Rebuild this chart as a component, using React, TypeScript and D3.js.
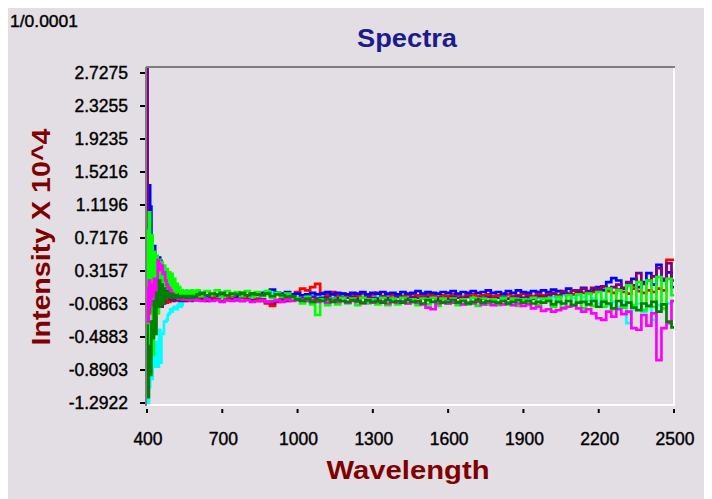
import React from "react";
import * as d3 from "d3";

const WIDTH = 704;
const HEIGHT = 491;
const BG = "#e3dee4";
const FONT = "'Liberation Sans', Arial, sans-serif";

// Sampling grid: 5 nm steps up to 595 nm, then 20 nm steps to 2500 nm
const wavelengths = [...d3.range(400, 600, 5), ...d3.range(600, 2501, 20)];

const xTickValues = [400, 700, 1000, 1300, 1600, 1900, 2200, 2500];
const yTickValues = [2.7275, 2.3255, 1.9235, 1.5216, 1.1196, 0.7176, 0.3157, -0.0863, -0.4883, -0.8903, -1.2922];

const purple = [
  2.78, 0.85, 0.30, 0.52, 0.18, 0.45, 0.10, 0.35, -0.05, 0.20,
  -0.10, 0.05, -0.12, 0.02, -0.08, 0.06, 0.10, 0.08, -0.03, 0.09,
  -0.04, 0.04, -0.05, -0.02, -0.04, -0.03, -0.05, -0.04, -0.03, -0.05,
  -0.04, -0.03, -0.05, -0.04, -0.04, -0.03, -0.05, -0.04, -0.03, -0.04,
  -0.04, -0.03, -0.05, -0.04, -0.03, -0.05, -0.04, -0.03, -0.04, -0.05,
  -0.03, -0.04, -0.05, -0.03, -0.06, -0.08, -0.04, -0.03, -0.05, -0.02,
  -0.03, -0.01, -0.02, 0.00, -0.02, -0.01, 0.00, -0.02, -0.01, 0.00,
  -0.01, 0.00, -0.02, -0.01, 0.00, -0.01, -0.02, 0.00, -0.01, -0.02,
  0.00, -0.01, -0.02, 0.00, -0.01, -0.02, 0.00, -0.01, -0.03, -0.01,
  -0.02, 0.00, -0.01, -0.02, 0.00, -0.01, -0.03, -0.01, 0.00, -0.02,
  -0.01, 0.00, -0.02, -0.01, 0.01, -0.01, 0.00, -0.02, 0.01, 0.00,
  0.02, 0.04, 0.01, 0.06, 0.03, 0.08, 0.05, 0.10, 0.06, 0.11,
  0.08, 0.13, 0.10, 0.12, 0.15, 0.11, 0.18, 0.14, 0.29, 0.16,
  0.20, 0.25, 0.35, 0.22, 0.41, 0.20,
];

const blue = [
  0.20, 0.60, 1.36, 1.10, 0.72, -0.18, 0.62, 0.30, 0.22, 0.35,
  0.48, 0.44, 0.30, 0.26, 0.22, 0.20, 0.17, 0.15, 0.13, 0.12,
  0.10, 0.09, 0.07, 0.06, 0.05, 0.04, 0.04, 0.03, 0.02, 0.02,
  0.01, 0.02, 0.00, 0.01, 0.02, 0.00, 0.01, 0.02, 0.01, 0.00,
  0.02, 0.03, 0.01, 0.03, 0.02, 0.04, 0.02, 0.03, 0.01, 0.03,
  0.02, 0.04, 0.03, 0.05, 0.06, 0.09, 0.05, 0.04, 0.06, 0.03,
  0.04, 0.02, 0.03, 0.05, 0.03, 0.04, 0.06, 0.03, 0.05, 0.04,
  0.03, 0.05, 0.04, 0.06, 0.03, 0.05, 0.04, 0.06, 0.04, 0.05,
  0.03, 0.06, 0.04, 0.05, 0.07, 0.04, 0.06, 0.05, 0.04, 0.06,
  0.05, 0.07, 0.04, 0.06, 0.05, 0.07, 0.05, 0.06, 0.08, 0.05,
  0.06, 0.04, 0.07, 0.05, 0.08, 0.06, 0.05, 0.07, 0.06, 0.08,
  0.06, 0.09, 0.07, 0.05, 0.10, 0.08, 0.06, 0.11, 0.07, 0.09,
  0.12, 0.08, 0.18, 0.23, 0.20, 0.10, 0.15, 0.22, 0.12, 0.18,
  0.29, 0.15, 0.39, 0.20, 0.30, 0.12,
];

const red = [
  0.00, -0.10, -0.20, -0.12, 0.05, -0.08, 0.10, 0.00, 0.08, -0.03,
  0.05, 0.00, -0.05, 0.03, -0.06, -0.02, -0.07, -0.04, -0.06, -0.03,
  -0.05, -0.02, -0.04, -0.01, -0.02, 0.00, -0.01, 0.01, 0.00, 0.01,
  0.00, 0.01, 0.02, 0.00, 0.01, 0.02, 0.00, 0.01, 0.02, 0.01,
  0.01, 0.00, 0.02, -0.01, 0.01, 0.00, -0.02, 0.01, 0.00, -0.01,
  0.00, 0.01, -0.02, -0.05, -0.08, -0.11, -0.06, -0.03, 0.00, 0.01,
  0.06, 0.10, 0.08, 0.12, 0.16, 0.05, 0.03, 0.06, 0.02, 0.04,
  0.02, 0.03, 0.01, 0.04, 0.02, 0.03, 0.05, 0.01, 0.03, 0.02,
  0.03, 0.01, 0.02, 0.04, 0.02, 0.01, 0.03, 0.02, 0.00, 0.02,
  0.01, 0.03, 0.02, 0.00, 0.02, 0.03, 0.01, 0.02, 0.03, 0.01,
  0.02, 0.00, 0.03, 0.01, 0.02, 0.04, 0.02, 0.01, 0.03, 0.02,
  0.03, 0.05, 0.02, 0.07, 0.04, 0.03, 0.08, 0.05, 0.04, 0.06,
  0.10, 0.12, 0.07, 0.05, 0.09, 0.06, 0.04, 0.10, 0.07, 0.05,
  0.08, 0.06, 0.10, 0.08, 0.45, 0.45,
];

const magenta = [
  0.10, -0.30, 0.20, -0.10, 0.15, 0.00, 0.22, -0.03, 0.18, 0.45,
  0.40, 0.33, 0.38, 0.28, 0.30, 0.20, 0.15, 0.12, 0.10, 0.08,
  0.05, 0.04, 0.02, 0.00, -0.01, -0.02, -0.01, -0.02, -0.03, -0.02,
  -0.03, -0.02, -0.03, -0.02, -0.04, -0.03, -0.02, -0.03, -0.04, -0.03,
  -0.04, -0.05, -0.03, -0.05, -0.04, -0.06, -0.04, -0.05, -0.03, -0.05,
  -0.04, -0.06, -0.05, -0.04, -0.06, -0.05, -0.04, -0.06, -0.03, -0.05,
  -0.04, -0.03, -0.05, -0.04, -0.06, -0.05, -0.07, -0.04, -0.06, -0.05,
  -0.07, -0.05, -0.06, -0.08, -0.05, -0.07, -0.06, -0.05, -0.08, -0.06,
  -0.07, -0.05, -0.08, -0.06, -0.07, -0.09, -0.13, -0.15, -0.08, -0.06,
  -0.08, -0.07, -0.06, -0.09, -0.07, -0.08, -0.06, -0.09, -0.07, -0.10,
  -0.08, -0.09, -0.07, -0.10, -0.08, -0.11, -0.09, -0.14, -0.12, -0.17,
  -0.15, -0.18, -0.16, -0.14, -0.12, -0.10, -0.14, -0.18, -0.15, -0.20,
  -0.26, -0.28, -0.18, -0.24, -0.15, -0.21, -0.18, -0.38, -0.40, -0.22,
  -0.35, -0.20, -0.77, -0.38, -0.32, -0.05,
];

const cyan = [
  -0.60, -1.29, -1.10, -0.75, -1.00, -0.70, -0.60, -0.85, -0.55, -0.85,
  -0.40, -0.80, -0.45, -0.45, -0.30, -0.30, -0.28, -0.22, -0.20, -0.15,
  -0.18, -0.14, -0.12, -0.15, -0.15, -0.10, -0.08, -0.12, -0.10, -0.05,
  -0.04, -0.05, -0.03, -0.04, -0.02, -0.03, -0.02, -0.01, -0.02, -0.01,
  -0.01, 0.00, -0.02, 0.00, -0.01, 0.01, -0.01, 0.00, -0.02, 0.00,
  0.01, 0.00, -0.01, 0.02, 0.03, 0.05, 0.04, 0.01, 0.00, 0.02,
  0.00, 0.01, -0.01, 0.02, 0.00, 0.01, -0.01, 0.02, 0.01, 0.00,
  0.02, 0.00, 0.01, 0.03, 0.01, 0.02, 0.00, 0.01, 0.02, 0.00,
  0.01, 0.03, 0.02, 0.00, 0.01, 0.05, 0.06, 0.02, 0.01, 0.00,
  0.02, 0.01, 0.00, 0.02, 0.01, 0.03, 0.00, 0.02, 0.01, 0.00,
  0.01, -0.02, 0.00, -0.03, -0.01, 0.00, -0.02, 0.01, -0.01, 0.00,
  -0.02, 0.00, -0.04, 0.02, 0.06, -0.01, -0.06, 0.00, -0.05, -0.02,
  -0.08, -0.04, -0.10, -0.06, -0.12, -0.05, -0.32, -0.15, -0.08, -0.18,
  -0.12, -0.28, -0.10, -0.15, -0.08, -0.05,
];

const darkGreen = [
  -0.35, -1.22, -0.60, -0.95, -0.30, -0.50, -0.05, -0.45, 0.05, -0.12,
  0.20, -0.10, 0.15, -0.08, 0.10, -0.02, 0.06, 0.00, 0.04, -0.01,
  0.03, 0.00, 0.02, -0.01, 0.02, 0.00, 0.01, -0.01, 0.01, 0.00,
  0.01, -0.01, 0.00, 0.01, -0.01, 0.00, 0.01, -0.01, 0.00, 0.00,
  0.03, 0.05, 0.02, 0.04, 0.03, 0.05, 0.02, 0.04, 0.03, 0.05,
  0.02, 0.04, 0.03, 0.02, 0.04, 0.01, 0.03, 0.02, 0.00, 0.01,
  -0.03, -0.05, -0.02, -0.06, -0.04, -0.05, -0.03, -0.06, -0.04, -0.05,
  -0.06, -0.04, -0.05, -0.07, -0.04, -0.06, -0.05, -0.07, -0.04, -0.06,
  -0.05, -0.07, -0.04, -0.06, -0.05, -0.08, -0.04, -0.06, -0.05, -0.07,
  -0.06, -0.04, -0.07, -0.05, -0.08, -0.06, -0.04, -0.07, -0.05, -0.06,
  -0.07, -0.05, -0.08, -0.06, -0.04, -0.07, -0.05, -0.08, -0.06, -0.07,
  -0.05, -0.09, -0.06, -0.08, -0.05, -0.10, -0.07, -0.06, -0.09, -0.05,
  -0.12, -0.06, -0.08, -0.14, -0.05, -0.10, -0.07, -0.13, -0.16, -0.08,
  -0.11, -0.06, -0.18, -0.09, -0.30, -0.37,
];

const green = [
  0.80, -0.75, 1.03, -0.10, 0.75, -0.70, 0.55, -0.45, 0.50, -0.20,
  0.45, -0.05, 0.42, 0.05, 0.38, 0.10, 0.34, 0.12, 0.30, 0.08,
  0.28, 0.06, 0.22, 0.05, 0.16, 0.06, 0.12, 0.04, 0.08, 0.03,
  0.07, 0.02, 0.08, 0.01, 0.07, 0.02, 0.08, 0.01, 0.07, 0.02,
  0.08, 0.01, 0.07, 0.02, 0.08, 0.00, 0.07, 0.02, 0.06, 0.01,
  0.07, 0.00, 0.06, 0.01, 0.07, -0.01, 0.05, 0.00, 0.04, -0.03,
  -0.02, -0.08, 0.00, -0.09, -0.22, -0.03, -0.10, -0.02, -0.09, -0.01,
  -0.08, -0.02, -0.10, -0.01, -0.08, -0.03, -0.09, -0.01, -0.10, -0.02,
  -0.09, -0.01, -0.08, -0.03, -0.10, -0.02, -0.09, -0.01, -0.11, -0.02,
  -0.08, -0.02, -0.10, -0.03, -0.09, -0.01, -0.11, -0.02, -0.09, -0.03,
  -0.10, -0.01, -0.09, -0.02, -0.11, -0.03, -0.08, -0.01, -0.10, -0.02,
  -0.02, -0.12, 0.00, -0.13, 0.02, -0.10, 0.03, -0.14, 0.04, -0.11,
  0.06, -0.12, 0.10, -0.15, 0.08, -0.13, 0.14, -0.10, 0.18, -0.16,
  0.20, -0.12, 0.24, -0.14, 0.22, 0.02,
];

// Drawing order: later series sit on top
const series = [
  { key: "cyan", color: "#00ffff", values: cyan },
  { key: "red", color: "#ff0000", values: red },
  { key: "blue", color: "#0000ff", values: blue },
  { key: "purple", color: "#800080", values: purple },
  { key: "green", color: "#00ff00", values: green },
  { key: "magenta", color: "#ff00ff", values: magenta },
  { key: "darkGreen", color: "#008000", values: darkGreen },
];

// Plot frame (svg coordinates)
const FRAME = { left: 139, right: 666, top: 60, bottom: 397 };

const x = d3.scaleLinear().domain([400, 2500]).range([139, 666]);
const y = d3.scaleLinear().domain([2.7275, -1.2922]).range([65, 395]);

const line = d3
  .line<number>()
  .x((_, i) => x(wavelengths[i]))
  .y((d) => y(d))
  .curve(d3.curveStep);

export default function App() {
  return (
    <svg width={WIDTH} height={HEIGHT} style={{ display: "block" }} fontFamily={FONT}>
      <rect x={0} y={0} width={WIDTH} height={HEIGHT} fill={BG} />
      <defs>
        <clipPath id="plot-clip">
          <rect
            x={FRAME.left}
            y={FRAME.top}
            width={FRAME.right - FRAME.left}
            height={FRAME.bottom - FRAME.top}
          />
        </clipPath>
      </defs>

      {/* scale factor note */}
      <text
        x={2}
        y={19}
        fontSize={17}
        fill="#000"
        stroke="#000"
        strokeWidth={0.4}
        textLength={68}
        lengthAdjust="spacingAndGlyphs"
      >
        1/0.0001
      </text>

      <text
        x={399}
        y={39}
        fontSize={25}
        fontWeight="bold"
        fill="#1b1b8c"
        textAnchor="middle"
        textLength={100}
        lengthAdjust="spacingAndGlyphs"
      >
        Spectra
      </text>

      {/* sunken frame: dark top/left, white bottom/right */}
      <line x1={FRAME.left - 1} x2={FRAME.right + 1} y1={FRAME.top - 1} y2={FRAME.top - 1} stroke="#7d7d7d" strokeWidth={2} />
      <line x1={FRAME.left - 1} x2={FRAME.left - 1} y1={FRAME.top - 1} y2={FRAME.bottom + 1} stroke="#7d7d7d" strokeWidth={2} />
      <line x1={FRAME.left} x2={FRAME.right + 1} y1={FRAME.bottom} y2={FRAME.bottom} stroke="#ffffff" strokeWidth={2} />
      <line x1={FRAME.right} x2={FRAME.right} y1={FRAME.top} y2={FRAME.bottom + 1} stroke="#ffffff" strokeWidth={2} />

      <g clipPath="url(#plot-clip)">
        {series.map((s) => (
          <path
            key={s.key}
            d={line(s.values) ?? ""}
            fill="none"
            stroke={s.color}
            strokeWidth={2.7}
            strokeLinejoin="miter"
          />
        ))}
      </g>

      {/* y axis ticks and labels */}
      {yTickValues.map((v) => (
        <g key={v}>
          <line x1={132} x2={137} y1={y(v)} y2={y(v)} stroke="#000" strokeWidth={2} />
          <text
            x={120}
            y={y(v) + 6}
            fontSize={17.5}
            textAnchor="end"
            fill="#000"
            stroke="#000"
            strokeWidth={0.4}
          >
            {v.toFixed(4)}
          </text>
        </g>
      ))}

      {/* x axis ticks and labels */}
      {xTickValues.map((v) => (
        <g key={v}>
          <line x1={x(v)} x2={x(v)} y1={401} y2={405} stroke="#000" strokeWidth={2} />
          <text
            x={x(v) + 1}
            y={437}
            fontSize={17.5}
            textAnchor="middle"
            fill="#000"
            stroke="#000"
            strokeWidth={0.4}
          >
            {v}
          </text>
        </g>
      ))}

      <text
        x={400}
        y={471}
        fontSize={26}
        fontWeight="bold"
        fill="#800000"
        textAnchor="middle"
        textLength={163}
        lengthAdjust="spacingAndGlyphs"
      >
        Wavelength
      </text>

      <text
        transform="translate(42,229) rotate(-90)"
        fontSize={25}
        fontWeight="bold"
        fill="#800000"
        textAnchor="middle"
        textLength={217}
        lengthAdjust="spacingAndGlyphs"
      >
        Intensity X 10^4
      </text>
    </svg>
  );
}
